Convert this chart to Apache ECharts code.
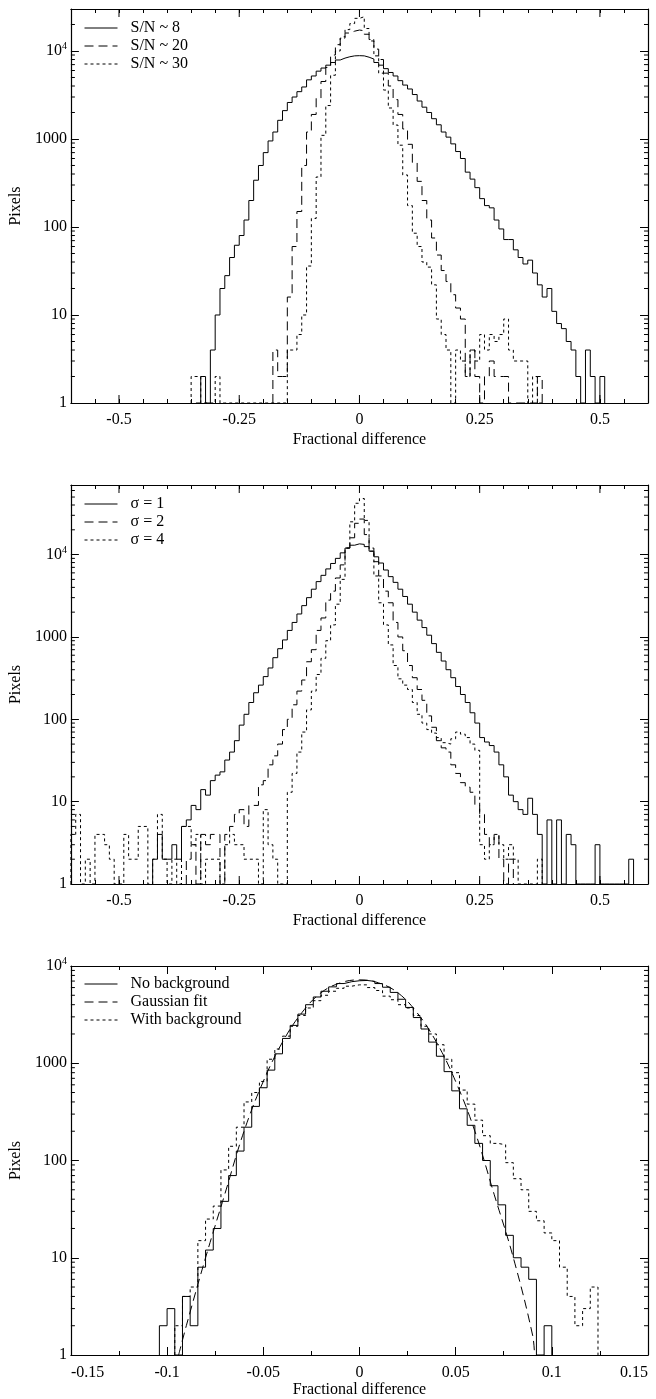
<!DOCTYPE html>
<html>
<head>
<meta charset="utf-8">
<script src="https://cdn.jsdelivr.net/npm/echarts@6.0.0/dist/echarts.min.js"></script>
<style>
  html, body { margin: 0; padding: 0; background: #fff; }
  #chart { width: 656px; height: 1399px; }
</style>
</head>
<body>
<div id="chart"></div>
<script>
var FONT = '"Liberation Serif", "Times New Roman", serif';

// ---- data (counts per bin) ----
var binWide = 0.01;    // top two panels
var binNarrow = 0.004; // bottom panel

// top: S/N
var sn8Start = -0.34;
var sn8 = [1, 2, 1, 4, 10, 20, 28, 45, 62, 80,
  120, 200, 340, 500, 700, 950, 1200, 1630, 2100, 2600,
  3000, 3450, 3900, 4700, 5200, 5900, 6400, 6900, 7400, 7900,
  8300, 8600, 8800, 8850, 8800, 8500, 8100, 7400, 6900, 6300,
  5700, 5200, 4600, 4100, 3700, 3200, 2700, 2300, 2000, 1700,
  1450, 1200, 1050, 880, 720, 600, 420, 350, 280, 210,
  175, 165, 120, 95, 72, 72, 55, 45, 38, 42,
  30, 22, 16, 20, 11, 8, 7, 5, 4, 2,
  1, 4, 2, 1, 2];
var sn20Start = -0.18;
var sn20 = [4, 2, 2, 16, 60, 150, 500, 1200, 1900, 2900,
  4500, 6500, 9000, 11800, 14500, 16000, 16800, 17300, 17000, 15500,
  13000, 10500, 8000, 5600, 4000, 2800, 1900, 1300, 870, 540,
  330, 200, 120, 75, 48, 32, 24, 17, 12, 9,
  2, 4, 2, 1, 2, 3, 2, 2, 2, 1,
  1, 1, 1, 1, 1, 2];
var sn30Start = -0.35;
var sn30 = [2, 2, 1, 1, 1, 2, 1, 1, 1, 1,
  1, 1, 1, 1, 1, 1, 1, 1, 1, 1,
  4, 4, 6, 10, 36, 125, 370, 1100, 2400, 5300,
  10000, 14000, 17500, 20500, 23500, 24500, 18000, 13500, 8800, 5600,
  3600, 2250, 1440, 850, 390, 175, 85, 60, 40, 35,
  22, 9, 6, 4, 1, 4, 3, 2, 4, 3,
  6, 4, 6, 5, 6, 9, 4, 3, 3, 3,
  1, 2, 1];

// middle: sigma
var sig1Start = -0.43;
var sig1 = [2, 4, 2, 2, 3, 2, 5, 6, 9, 8,
  14, 12, 18, 21, 23, 32, 40, 55, 85, 115,
  160, 210, 260, 330, 420, 560, 720, 920, 1200, 1500,
  1900, 2400, 3000, 3800, 4700, 5600, 6700, 7800, 9000, 10500,
  12000, 13000, 13500, 13300, 12500, 11000, 9400, 7900, 6500, 5400,
  4600, 3800, 3100, 2500, 2000, 1600, 1300, 1050, 830, 650,
  510, 400, 320, 250, 200, 160, 120, 90, 60, 53,
  48, 40, 28, 20, 12, 10, 8, 7, 11, 7,
  4, 1, 6, 1, 6, 1, 4, 3, 1, 1,
  1, 1, 3, 1, 1, 1, 1, 1, 1, 2];
var sig2Start = -0.36;
var sig2 = [2, 3, 1, 4, 3, 4, 4, 1, 4, 5,
  7, 8, 5, 9, 9, 16, 18, 28, 36, 50,
  75, 100, 150, 220, 300, 500, 700, 1200, 1700, 2800,
  3600, 5200, 7500, 12000, 16000, 24000, 27000, 17500, 12000, 8200,
  5500, 3600, 2600, 1500, 1000, 680, 450, 320, 230, 170,
  110, 80, 55, 45, 40, 28, 22, 17, 15, 13,
  9, 7, 4, 3, 4, 2, 1, 2];
var sig4Start = -0.60;
var sig4 = [4, 7, 1, 2, 1, 4, 4, 3, 2, 1,
  1, 4, 2, 2, 5, 5, 1, 2, 7, 2,
  1, 2, 1, 5, 5, 3, 4, 1, 2, 2,
  2, 1, 3, 4, 3, 3, 2, 2, 2, 1,
  8, 3, 2, 1, 1, 13, 22, 40, 70, 130,
  220, 350, 550, 900, 1400, 2500, 5000, 12000, 25000, 42000,
  48000, 26000, 11000, 5500, 2600, 1400, 800, 450, 310, 260,
  230, 160, 115, 90, 75, 68, 60, 52, 50, 58,
  70, 66, 60, 50, 42, 3, 2, 3, 4, 3,
  2, 3, 2, 1, 1, 1, 1, 2];

// bottom: background test
var noBgStart = -0.104;
var noBg = [2, 3, 1, 4, 2, 8, 12, 20, 38, 70,
  125, 220, 360, 560, 850, 1250, 1800, 2450, 3200, 4000,
  4800, 5500, 6100, 6600, 6900, 7050, 7100, 6950, 6600, 6050,
  5350, 4550, 3750, 2950, 2250, 1650, 1180, 820, 520, 340,
  230, 150, 100, 55, 35, 17, 10, 8, 6, 1,
  2];
var withBgStart = -0.096;
var withBg = [2, 4, 5, 15, 25, 34, 80, 140, 220, 400,
  500, 650, 1100, 1400, 1900, 2400, 3100, 3700, 4400, 5000,
  5500, 5900, 6200, 6400, 6400, 6000, 5600, 4900, 4500, 4000,
  3700, 3100, 2400, 2000, 1550, 1100, 800, 530, 380, 260,
  180, 150, 145, 95, 65, 50, 30, 24, 18, 15,
  8, 4, 2, 3, 5];
var gaussX = [-0.094, -0.09, -0.08, -0.07, -0.06, -0.05, -0.04, -0.03, -0.02, -0.01, 0,
  0.01, 0.02, 0.03, 0.04, 0.05, 0.06, 0.07, 0.08, 0.09, 0.091];
var gaussY = [1, 2, 10, 45, 200, 650, 1650, 3300, 5300, 6700, 7200,
  6700, 5300, 3300, 1650, 650, 200, 45, 10, 1.6, 1];

var wideTicks = [-0.5, -0.25, 0, 0.25, 0.5];
var legendNames = [
  ['S/N ~ 8', 'S/N ~ 20', 'S/N ~ 30'],
  ['\u03c3 = 1', '\u03c3 = 2', '\u03c3 = 4'],
  ['No background', 'Gaussian fit', 'With background']
];

// ---- helpers ----
function hist(start, width, counts) {
  var pts = [[start, 1]];
  counts.forEach(function (c, i) {
    pts.push([+(start + i * width).toFixed(4), c]);
  });
  var end = +(start + counts.length * width).toFixed(4);
  pts.push([end, counts[counts.length - 1]]);
  pts.push([end, 1]);
  return pts;
}

function logMinors(max) {
  var out = [];
  for (var d = 1; d < max; d *= 10) {
    for (var k = 2; k <= 9; k++) {
      if (k * d < max) out.push(k * d);
    }
  }
  return out;
}

function yLabel(v) {
  var e = Math.log(v) / Math.LN10;
  var r = Math.round(e);
  if (Math.abs(e - r) > 1e-6) return '';
  if (r >= 4) return '{b|10}{s|' + r + '}';
  return String(Math.round(Math.pow(10, r)));
}

var DASH = { solid: 'solid', dashed: [9, 5], dotted: [3, 3] };
var textStyle = { fontFamily: FONT, fontSize: 16, color: '#000' };

var option = {
  backgroundColor: '#fff',
  animation: false,
  grid: [], xAxis: [], yAxis: [], legend: [], series: []
};

function addPanel(p, cfg) {
  option.grid.push({ left: 66, right: 8, top: cfg.top, height: cfg.height });

  var xBase = {
    gridIndex: p, type: 'value', min: cfg.xmin, max: cfg.xmax, interval: cfg.xInterval,
    splitLine: { show: false },
    axisLine: { show: true, onZero: false, lineStyle: { color: '#000', width: 1.2 } },
    axisTick: { show: true, inside: true, length: cfg.xTickLen, lineStyle: { color: '#000', width: 1 } },
    minorTick: { show: !!cfg.xMinor, splitNumber: cfg.xMinor || 2, length: 4, lineStyle: { color: '#000', width: 1 } }
  };
  option.xAxis.push(Object.assign({}, xBase, {
    position: 'bottom',
    axisLabel: Object.assign({ margin: cfg.labelMargin, formatter: cfg.xFormat,
      alignMinLabel: cfg.alignEdge ? 'left' : null, alignMaxLabel: cfg.alignEdge ? 'right' : null }, textStyle),
    name: 'Fractional difference', nameLocation: 'middle', nameGap: cfg.nameGap,
    nameTextStyle: textStyle
  }));
  option.xAxis.push(Object.assign({}, xBase, { position: 'top', axisLabel: { show: false } }));

  var yBase = {
    gridIndex: p, type: 'log', logBase: 10, min: 1, max: cfg.ymax,
    splitLine: { show: false },
    axisLine: { show: true, onZero: false, lineStyle: { color: '#000', width: 1.2 } },
    axisTick: { show: true, inside: true, length: 8, lineStyle: { color: '#000', width: 1 } }
  };
  option.yAxis.push(Object.assign({}, yBase, {
    position: 'left',
    axisLabel: Object.assign({
      margin: 4, formatter: yLabel,
      rich: {
        b: { fontFamily: FONT, fontSize: 16, color: '#000' },
        s: { fontFamily: FONT, fontSize: 10, color: '#000', padding: [0, 0, 9, 0] }
      }
    }, textStyle),
    name: 'Pixels', nameLocation: 'middle', nameGap: 35, nameRotate: 90,
    nameTextStyle: textStyle
  }));
  option.yAxis.push(Object.assign({}, yBase, { position: 'right', axisLabel: { show: false } }));

  cfg.lines.forEach(function (s, i) {
    option.series.push({
      name: legendNames[p][i], type: 'line', xAxisIndex: 2 * p, yAxisIndex: 2 * p,
      data: s.data, step: s.smooth ? false : 'end', smooth: s.smooth ? 0.4 : false,
      symbol: 'none', silent: true,
      lineStyle: { color: '#000', width: 1, type: DASH[s.dash] },
      itemStyle: { color: '#000' }
    });
  });

  // minor log ticks 2..9 on both sides
  option.series.push({
    type: 'custom', xAxisIndex: 2 * p, yAxisIndex: 2 * p, silent: true, z: 5, clip: false,
    data: logMinors(cfg.ymax).map(function (v) { return [0, v]; }),
    renderItem: function (params, api) {
      var cs = params.coordSys;
      var y = api.coord([api.value(0), api.value(1)])[1];
      var st = { stroke: '#000', lineWidth: 1 };
      return { type: 'group', children: [
        { type: 'line', shape: { x1: cs.x, y1: y, x2: cs.x + 4, y2: y }, style: st },
        { type: 'line', shape: { x1: cs.x + cs.width - 4, y1: y, x2: cs.x + cs.width, y2: y }, style: st }
      ] };
    }
  });

  // longer major x ticks where the axis steps in fine intervals
  if (cfg.xMajors) {
    option.series.push({
      type: 'custom', xAxisIndex: 2 * p, yAxisIndex: 2 * p, silent: true, z: 5, clip: false,
      data: cfg.xMajors.map(function (v) { return [v, 1]; }),
      renderItem: function (params, api) {
        var cs = params.coordSys;
        var x = api.coord([api.value(0), 1])[0];
        var st = { stroke: '#000', lineWidth: 1 };
        return { type: 'group', children: [
          { type: 'line', shape: { x1: x, y1: cs.y + cs.height, x2: x, y2: cs.y + cs.height - 8 }, style: st },
          { type: 'line', shape: { x1: x, y1: cs.y, x2: x, y2: cs.y + 8 }, style: st }
        ] };
      }
    });
  }

  option.legend.push({
    data: legendNames[p], orient: 'vertical', left: 79, top: cfg.legendTop,
    itemWidth: 33, itemHeight: 12, itemGap: 2, selectedMode: false,
    itemStyle: { opacity: 0, borderWidth: 0 },
    lineStyle: { width: 1 },
    textStyle: Object.assign({ padding: [0, 0, 0, 8] }, textStyle)
  });
}

function wideLabel(v) {
  var q = v / 0.25;
  if (Math.abs(q - Math.round(q)) > 1e-6 || Math.abs(v) > 0.55) return '';
  return String(+v.toFixed(2));
}

addPanel(0, {
  top: 9, height: 394, xmin: -0.6, xmax: 0.6, xInterval: 0.05, xTickLen: 4,
  xFormat: wideLabel, xMajors: wideTicks, ymax: 3e4, labelMargin: 9, nameGap: 29, legendTop: 15,
  lines: [
    { data: hist(sn8Start, binWide, sn8), dash: 'solid' },
    { data: hist(sn20Start, binWide, sn20), dash: 'dashed' },
    { data: hist(sn30Start, binWide, sn30), dash: 'dotted' }
  ]
});
addPanel(1, {
  top: 485, height: 399, xmin: -0.6, xmax: 0.6, xInterval: 0.05, xTickLen: 4,
  xFormat: wideLabel, xMajors: wideTicks, ymax: 7e4, labelMargin: 9, nameGap: 29, legendTop: 491,
  lines: [
    { data: hist(sig1Start, binWide, sig1), dash: 'solid' },
    { data: hist(sig2Start, binWide, sig2), dash: 'dashed' },
    { data: hist(sig4Start, binWide, sig4), dash: 'dotted' }
  ]
});
addPanel(2, {
  top: 966, height: 400, xmin: -0.15, xmax: 0.15, xInterval: 0.05, xTickLen: 8, xMinor: 2,
  xFormat: function (v) { return String(+v.toFixed(2)); }, alignEdge: true,
  ymax: 1e4, labelMargin: 10, nameGap: 27, legendTop: 971,
  lines: [
    { data: hist(noBgStart, binNarrow, noBg), dash: 'solid' },
    { data: gaussX.map(function (x, i) { return [x, gaussY[i]]; }), dash: 'dashed', smooth: true },
    { data: hist(withBgStart, binNarrow, withBg), dash: 'dotted' }
  ]
});

var chart = echarts.init(document.getElementById('chart'));
chart.setOption(option);
</script>
</body>
</html>
